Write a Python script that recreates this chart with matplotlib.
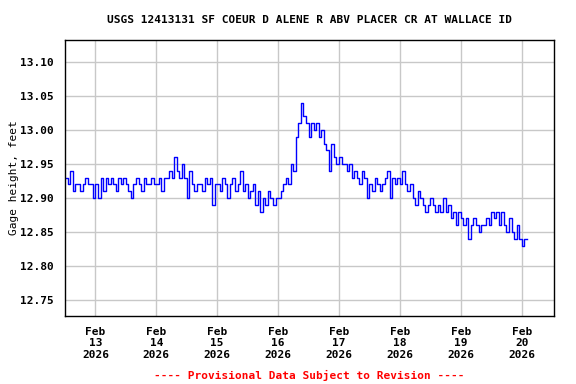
import numpy as np
import pandas as pd
import matplotlib
matplotlib.use('Agg')
import matplotlib.pyplot as plt

# hourly gage height readings (feet)
feb12 = [12.93, 12.92, 12.94, 12.91, 12.92, 12.92, 12.91, 12.92, 12.93, 12.92, 12.92, 12.90]
feb13 = [12.92, 12.90, 12.93, 12.91, 12.93, 12.92, 12.93, 12.92, 12.91, 12.93,
         12.92, 12.93, 12.92, 12.91, 12.90, 12.92, 12.93, 12.92, 12.91, 12.93,
         12.92, 12.92, 12.93, 12.92]
feb14 = [12.92, 12.93, 12.91, 12.93, 12.93, 12.94, 12.93, 12.96, 12.94, 12.93,
         12.95, 12.93, 12.90, 12.94, 12.92, 12.91, 12.92, 12.92, 12.91, 12.93,
         12.92, 12.93, 12.89, 12.92]
feb15 = [12.92, 12.91, 12.93, 12.92, 12.90, 12.92, 12.93, 12.91, 12.92, 12.94,
         12.91, 12.92, 12.90, 12.91, 12.92, 12.89, 12.91, 12.88, 12.90, 12.89,
         12.91, 12.90, 12.89, 12.90]
feb16 = [12.90, 12.91, 12.92, 12.93, 12.92, 12.95, 12.94, 12.99, 13.01, 13.04,
         13.02, 13.01, 12.99, 13.01, 13.00, 13.01, 12.99, 13.00, 12.98, 12.97,
         12.94, 12.98, 12.96, 12.95]
feb17 = [12.96, 12.95, 12.95, 12.94, 12.95, 12.93, 12.94, 12.93, 12.92, 12.94,
         12.93, 12.90, 12.92, 12.91, 12.93, 12.92, 12.91, 12.92, 12.93, 12.94,
         12.90, 12.93, 12.92, 12.93]
feb18 = [12.92, 12.94, 12.92, 12.91, 12.92, 12.90, 12.89, 12.91, 12.90, 12.89,
         12.88, 12.89, 12.90, 12.89, 12.88, 12.89, 12.88, 12.90, 12.88, 12.89,
         12.87, 12.88, 12.86, 12.88]
feb19 = [12.87, 12.86, 12.87, 12.84, 12.86, 12.87, 12.86, 12.85, 12.86, 12.86,
         12.87, 12.86, 12.88, 12.87, 12.88, 12.86, 12.88, 12.86, 12.85, 12.87,
         12.85, 12.84, 12.86, 12.84]
feb20 = [12.83, 12.84, 12.84]

gage = feb12 + feb13 + feb14 + feb15 + feb16 + feb17 + feb18 + feb19 + feb20
times = pd.date_range('2026-02-12 12:00', periods=len(gage), freq='h')

day_ticks = pd.date_range('2026-02-13', '2026-02-20', freq='D')
day_labels = ['Feb\n%d\n2026' % d.day for d in day_ticks]
y_ticks = [12.75, 12.80, 12.85, 12.90, 12.95, 13.00, 13.05, 13.10]

plt.rcParams['font.family'] = 'DejaVu Sans Mono'
plt.rcParams['font.weight'] = 'bold'
plt.rcParams['font.size'] = 8

fig = plt.figure(figsize=(5.76, 3.84), dpi=100)
ax = fig.add_axes([65 / 576, 1 - 316 / 384, (554 - 65) / 576, (316 - 40) / 384])

ax.plot(times, gage, color='#0000ff', linewidth=1, drawstyle='steps-post')

ax.set_xlim(pd.Timestamp('2026-02-12 12:00'), pd.Timestamp('2026-02-20 12:45'))
ax.set_ylim(12.7265, 13.1324)
ax.set_xticks(day_ticks)
ax.set_xticklabels(day_labels, linespacing=1.15)
ax.set_yticks(y_ticks)
ax.set_yticklabels(['%.2f' % v for v in y_ticks])
ax.tick_params(length=0, pad=8)

ax.grid(True, color='#c8c8c8', linewidth=1)
ax.set_axisbelow(True)
for s in ax.spines.values():
    s.set_linewidth(1)
    s.set_color('black')

ax.set_ylabel('Gage height, feet')
ax.yaxis.set_label_coords(-46 / 489, 0.5)
fig.text(309.5 / 576, 1 - 20 / 384, 'USGS 12413131 SF COEUR D ALENE R ABV PLACER CR AT WALLACE ID',
         ha='center', va='center')
fig.text(309.5 / 576, 1 - 375 / 384, '---- Provisional Data Subject to Revision ----',
         ha='center', va='center', color='red')

fig.savefig('out.png', dpi=100)
